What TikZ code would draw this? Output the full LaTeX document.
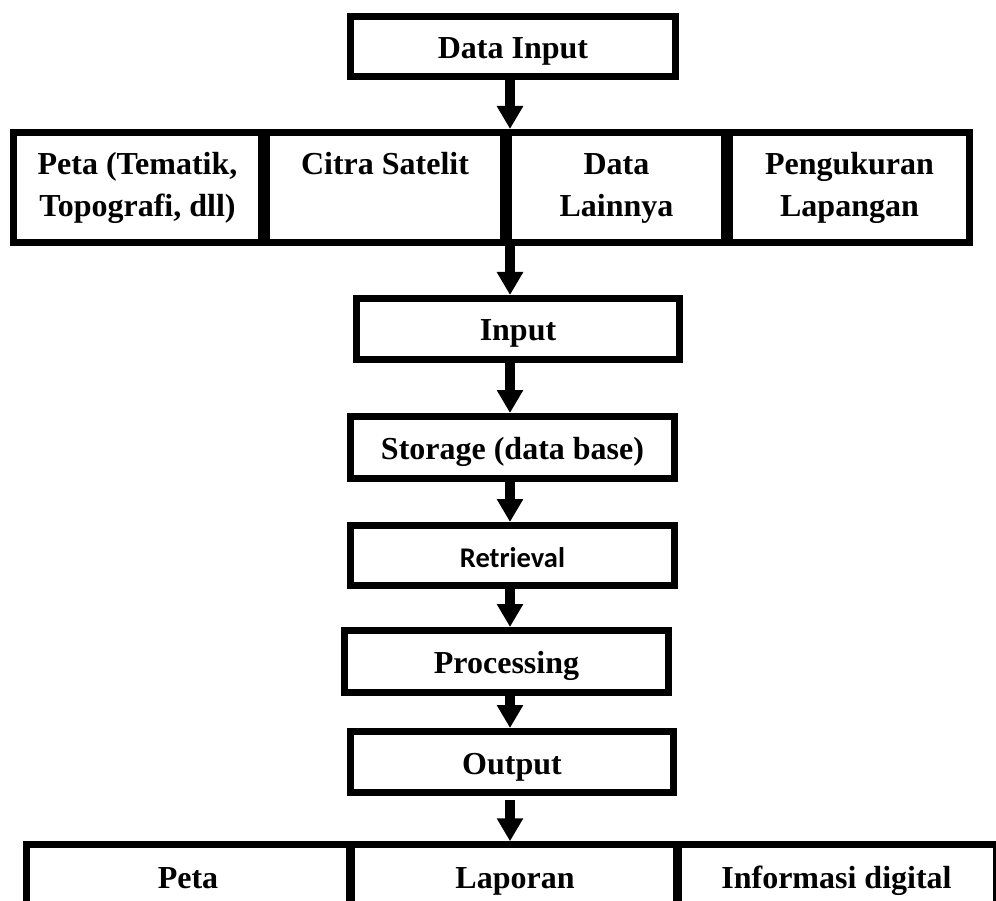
\documentclass[tikz,border=0pt]{standalone}
\usepackage{fontspec}
\setmainfont{Liberation Serif}
\newfontfamily\calibrifont{Carlito}
\usetikzlibrary{arrows.meta}

\begin{document}
\begin{tikzpicture}[x=1pt, y=-1pt,
    box/.style={draw, line width=7pt, inner sep=0pt, align=center,
      font=\fontsize{32}{42}\selectfont\bfseries},
    onebox/.style={box, text height=26pt, text depth=2pt},
    flow/.style={line width=10pt, -{Triangle[width=25pt, length=23pt]}}]
    \useasboundingbox (0, 0) rectangle (996, 901);
    \clip (0, 0) rectangle (996, 901);
    % the arrows run down this line
    \coordinate (spine) at (510, 0);

    % data input
    \node[onebox, minimum width=325pt, minimum height=60pt](datain)
      at (513, 46.5){Data Input};

    % the four sources
    \node[box, minimum width=248pt, minimum height=110pt](peta)
      at (137.5, 187.5){\strut Peta (Tematik,\\\strut Topografi, dll)};
    \node[box, minimum width=237pt, minimum height=110pt](citra)
      at (385, 187.5){\strut Citra Satelit\\\strut};
    \node[box, minimum width=216pt, minimum height=110pt](lain)
      at (616.5, 187.5){\strut Data\\\strut Lainnya};
    \node[box, minimum width=240pt, minimum height=110pt](ukur)
      at (849.5, 187.5){\strut Pengukuran\\\strut Lapangan};

    % the chain
    \node[onebox, minimum width=323pt, minimum height=61pt](input)
      at (518, 329){Input};
    \node[onebox, minimum width=324pt, minimum height=62pt](storage)
      at (512.5, 447.5){Storage (data base)};
    \node[onebox, minimum width=324pt, minimum height=60pt,
      font=\fontsize{28.5}{34}\selectfont\calibrifont\bfseries](retrieval)
      at (512.5, 555.5){Retrieval};
    \node[onebox, minimum width=324pt, minimum height=62pt](processing)
      at (506.5, 661.5){Processing};
    \node[onebox, minimum width=323pt, minimum height=61pt](output)
      at (512, 762){Output};

    % the three results, cut at the bottom
    \node[onebox, line width=6.5pt, minimum width=323pt, minimum height=63pt](petaout)
      at (188, 876){Peta};
    \node[onebox, line width=6.5pt, minimum width=327pt, minimum height=63pt](laporan)
      at (515, 876){Laporan};
    \node[onebox, line width=6.5pt, minimum width=320pt, minimum height=63pt](info)
      at (836.5, 876){Informasi digital};

    % arrows
    \draw[flow] (datain.south -| spine) -- (citra.north -| spine);
    \draw[flow] (citra.south -| spine) -- (input.north -| spine);
    \draw[flow] (input.south -| spine) -- (storage.north -| spine);
    \draw[flow] (storage.south -| spine) -- (retrieval.north -| spine);
    \draw[flow] (retrieval.south -| spine) -- (processing.north -| spine);
    \draw[flow] (processing.south -| spine) -- (output.north -| spine);
    \draw[flow, shorten <=4pt] (output.south -| spine) -- (laporan.north -| spine);
\end{tikzpicture}
\end{document}
